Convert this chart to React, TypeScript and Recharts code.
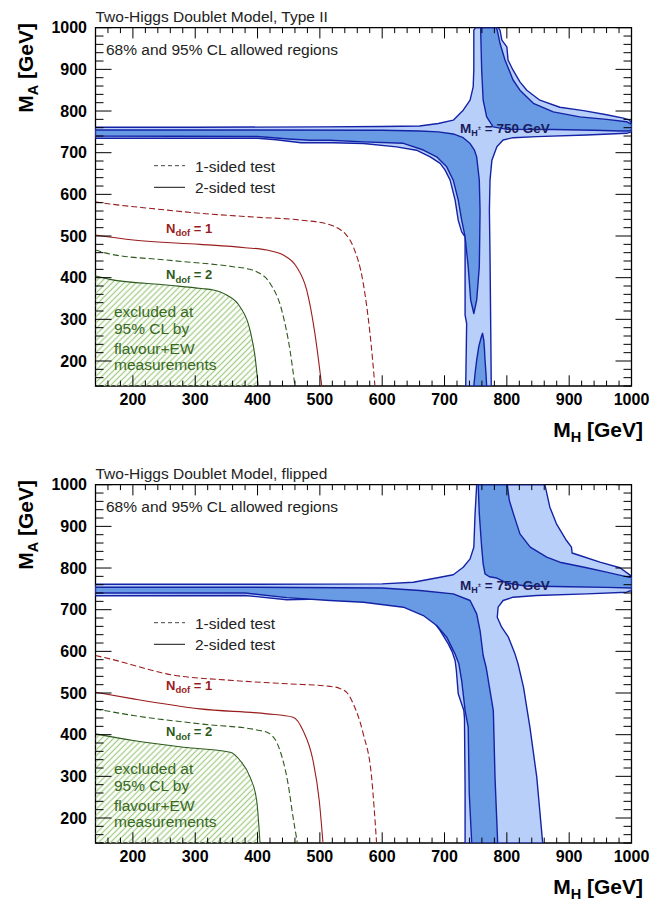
import { ScatterChart, Scatter, XAxis, YAxis, ReferenceArea } from 'recharts';

type Pt = { x: number; y: number };
const toPts = (a: number[][]): Pt[] => a.map(([x, y]) => ({ x, y }));

// axis ticks in GeV (minor every 20, labels on the hundreds)
const AXIS_TICKS = [140, 160, 180, 200, 220, 240, 260, 280, 300, 320, 340, 360, 380, 400, 420, 440, 460, 480,
  500, 520, 540, 560, 580, 600, 620, 640, 660, 680, 700, 720, 740, 760, 780, 800, 820, 840, 860, 880, 900, 920,
  940, 960, 980, 1000];
const TICK_LABELS = [200, 300, 400, 500, 600, 700, 800, 900, 1000];

// ---- Type II: 95% (light) and 68% (dark) CL contours, (M_H, M_A)
const TYPE2_LIGHT = [[140, 761], [300, 761], [500, 762], [600, 763], [660, 764], [690, 770], [714, 778], [730, 802],
  [741, 826], [746, 858], [747, 900], [747, 994], [750, 1000], [786, 1000], [789, 994], [792, 970], [800, 954],
  [802, 922], [810, 898], [821, 870], [832, 850], [853, 826], [885, 809], [923, 801], [960, 791], [987, 783],
  [997, 778], [1000, 770], [1000, 750], [992, 746.5], [928, 742.5], [848, 738.5], [810, 736], [794, 730.5],
  [784, 714.5], [776, 682], [773, 634], [772, 562], [773, 450], [774, 300], [775, 140], [734, 140], [735.5, 290],
  [733, 310], [733, 498], [727.5, 510], [722, 538], [717, 586], [709, 634], [701, 658], [693, 674.5], [677, 690],
  [655, 706], [623, 714], [570, 722], [520, 724], [470, 724], [430, 731], [400, 734.5], [140, 734.5], [140, 761]];
const TYPE2_DARK_UPPER = [[758, 1000], [758, 994], [759.6, 898], [762, 826], [767.6, 786], [778, 762], [800, 756],
  [875, 755.5], [940, 754], [982, 752], [996, 752], [1000, 755], [1000, 768], [992, 774.4], [960, 780], [917, 786],
  [874.5, 798], [842.5, 818.5], [821, 850], [810, 874.5], [797, 922.5], [789, 962.5], [784.6, 994], [783, 1000],
  [758, 1000]];
const TYPE2_DARK_LOWER = [[140, 754.5], [400, 754.5], [600, 754], [660, 752], [690, 750], [714, 745], [730, 736],
  [741, 722], [748, 706], [751.6, 690], [755.8, 634], [757, 562], [756.5, 500], [755.8, 426], [751.6, 346],
  [747, 314], [742, 346], [738, 426], [733, 498], [727.5, 538], [722, 586], [714, 634], [703.5, 666], [687.4, 690],
  [666, 706.4], [634, 722.5], [570, 726], [516, 730], [484, 730], [450, 733], [400, 739], [140, 740], [140, 754.5]];
const TYPE2_DARK_BLOB = [[747, 140], [749, 170], [751.6, 202], [755, 235], [758.5, 255], [761, 266.5], [763, 250],
  [764, 230], [765, 202], [766.5, 170], [767.6, 140], [747, 140]];

// flavour + EW exclusion lines, Type II
const TYPE2_RED_DASHED = [[140, 582], [163, 577], [230, 566], [308, 554.5], [400, 545], [468, 538.4], [516, 527],
  [530, 518], [541, 505], [553.6, 474], [569.6, 386.5], [580.4, 266.5], [588.4, 140]];
const TYPE2_RED_SOLID = [[140, 502.4], [200.6, 490.4], [307.7, 480], [380, 472], [414.7, 466.4], [441.3, 454.4],
  [462.5, 426.4], [478.8, 370.6], [492, 266.5], [503, 140]];
const TYPE2_GREEN_DASHED = [[140, 466.4], [163, 456.8], [254, 442.4], [361, 426.4], [385, 421], [398.6, 414.4],
  [420, 386.5], [438.7, 322.4], [452, 226.4], [460, 140]];
const TYPE2_GREEN_SOLID = [[140, 404], [163, 396], [254, 382.4], [310, 374], [329, 370.6], [350.5, 358.4],
  [371.8, 330.4], [387.9, 274.4], [396, 210.4], [401, 140]];

// ---- flipped model
const FLIPPED_LIGHT = [[140, 761], [400, 761], [600, 762], [650, 766], [693, 778], [714, 784], [730, 802], [741, 822],
  [747, 850], [749, 930], [751.6, 1000], [861, 1000], [869, 946], [879.6, 906], [895.7, 866], [903.7, 850],
  [904.7, 836], [917, 830], [949.4, 814], [981.5, 800.7], [995, 786], [1000, 780], [1000, 746], [992, 742],
  [928, 738], [848, 734], [810, 730], [794, 722], [786, 706], [784.6, 682], [791.7, 658], [802.5, 634], [813, 594],
  [818, 570], [826.7, 514], [837, 418], [848, 298], [857.5, 140], [733, 140], [733, 274], [732, 440], [731, 458],
  [722, 498], [719, 554], [717, 578], [712, 600], [706, 618], [693, 650], [677, 682], [650, 702], [623, 714],
  [570, 722], [516, 726], [447, 724], [380, 734], [140, 733.5], [140, 761]];
const FLIPPED_DARK_UPPER = [[754, 1000], [755.8, 930], [759.6, 850], [762, 810], [765, 786], [772, 779], [784, 776],
  [800, 764], [830, 757], [900, 755], [960, 753.5], [1000, 752], [1000, 778], [995, 778], [960, 790], [928, 800.7],
  [885, 814], [864, 826], [837.5, 850], [821, 882], [810.6, 930], [804, 962], [800.7, 1000], [754, 1000]];
const FLIPPED_DARK_LOWER = [[140, 754], [400, 754], [600, 752], [660.6, 746], [714, 738], [741, 722], [751.6, 690],
  [757, 650], [762, 590], [767, 560], [778.3, 458], [781, 298], [785.3, 140], [743.6, 140], [739.7, 258],
  [738, 418], [733, 458], [727.5, 530], [723, 570], [716.8, 594], [703.5, 634], [687.4, 662], [666, 686],
  [634, 706], [570, 718], [516, 722], [447, 729], [380, 740], [140, 740], [140, 754]];

const FLIPPED_RED_DASHED = [[140, 590], [163, 582], [227, 556], [254, 546], [361, 530], [450, 522], [516, 516],
  [532, 511], [544, 500], [553.6, 474], [569.6, 402], [583, 298], [591, 140]];
const FLIPPED_RED_SOLID = [[140, 502], [200.6, 486], [307.7, 462], [415, 450], [457, 442], [473, 410], [489, 338],
  [499, 242], [505, 140]];
const FLIPPED_GREEN_DASHED = [[140, 462], [200.6, 446], [307.7, 426], [404, 410], [420, 402], [436, 362], [449, 282],
  [457, 202], [464, 140]];
const FLIPPED_GREEN_SOLID = [[140, 402], [200.6, 386], [281, 370], [356, 358], [372, 338], [388, 298],
  [398.6, 242], [404, 140]];

const PLOT_W = 536;
const PLOT_H = 358.3;
const FONT = '"Liberation Sans", Arial, Helvetica, sans-serif';
const LIGHT = '#b8cffa';
const DARK = '#689be3';
const EDGE = '#1423a6';
const RED = '#9a1c1c';
const GREEN = '#2c5a1c';
const HATCH = '#a4cd88';
const TEXT_GREEN = '#3a6a1f';

const noDot = () => <g />;

const XTick = ({ x, y, payload }: any) => {
  const v = payload.value;
  const major = TICK_LABELS.includes(v);
  const len = major ? 10.7 : 5.4;
  return (
    <g>
      <line x1={x} x2={x} y1={y} y2={y - len} stroke="#000" />
      <line x1={x} x2={x} y1={y - PLOT_H} y2={y - PLOT_H + len} stroke="#000" />
      {major && (
        <text x={x} y={y + 19} textAnchor="middle" fontFamily={FONT} fontWeight="bold" fontSize={16} fill="#000">
          {v}
        </text>
      )}
    </g>
  );
};

const YTick = ({ x, y, payload }: any) => {
  const v = payload.value;
  const major = TICK_LABELS.includes(v);
  const len = major ? 16 : 8;
  return (
    <g>
      <line x1={x} x2={x + len} y1={y} y2={y} stroke="#000" />
      <line x1={x + PLOT_W} x2={x + PLOT_W - len} y1={y} y2={y} stroke="#000" />
      {major && (
        <text x={x - 8.5} y={y + 5.5} textAnchor="end" fontFamily={FONT} fontWeight="bold" fontSize={16} fill="#000">
          {v}
        </text>
      )}
    </g>
  );
};

const region = (key: string, pts: number[][], fill: string) => (
  <Scatter key={key} data={toPts(pts)} shape={noDot} isAnimationActive={false} legendType="none"
    line={{ fill, stroke: EDGE, strokeWidth: 1.4, strokeLinejoin: 'round' }} lineJointType="linear" />
);

const curve = (key: string, pts: number[][], stroke: string, dashed: boolean) => (
  <Scatter key={key} data={toPts(pts)} shape={noDot} isAnimationActive={false} legendType="none"
    line={{ fill: 'none', stroke, strokeWidth: 1.1, strokeDasharray: dashed ? '6 3' : undefined }}
    lineJointType="monotoneX" />
);

const hatch = (id: string, boundary: number[][]) => (
  <Scatter key={id} data={toPts([...boundary, [140, 140]])} shape={noDot} isAnimationActive={false}
    legendType="none"
    line={(p: any) => (
      <g>
        <defs>
          <pattern id={id} patternUnits="userSpaceOnUse" width={4.2} height={4.2} patternTransform="rotate(45)">
            <line x1={2.1} y1={0} x2={2.1} y2={4.2} stroke={HATCH} strokeWidth={1.3} />
          </pattern>
        </defs>
        <path d={'M' + p.points.map((q: Pt) => `${q.x},${q.y}`).join('L') + 'Z'} fill={`url(#${id})`} />
      </g>
    )} />
);

interface PanelProps {
  top: number;
  id: string;
  title: string;
  light: number[][];
  darkUpper: number[][];
  darkLower: number[][];
  blob?: number[][];
  redDashed: number[][];
  redSolid: number[][];
  greenDashed: number[][];
  greenSolid: number[][];
}

function Panel(p: PanelProps) {
  const txt = { fontFamily: FONT, fontSize: 15.5, fill: '#222' };
  return (
    <div style={{ position: 'absolute', left: 0, top: p.top, width: 660, height: 448 }}>
      <ScatterChart width={660} height={443} margin={{ top: 27.7, right: 28.5, bottom: 27, left: 35.5 }}>
        {hatch('hatch-' + p.id, p.greenSolid)}
        {region('light', p.light, LIGHT)}
        {region('dark-up', p.darkUpper, DARK)}
        {region('dark-low', p.darkLower, DARK)}
        {p.blob && region('dark-blob', p.blob, DARK)}
        {curve('red-d', p.redDashed, RED, true)}
        {curve('red-s', p.redSolid, RED, false)}
        {curve('green-d', p.greenDashed, GREEN, true)}
        {curve('green-s', p.greenSolid, GREEN, false)}
        <XAxis type="number" dataKey="x" domain={[140, 1000]} ticks={AXIS_TICKS} interval={0} allowDataOverflow
          height={30} tickSize={0} tickMargin={0} axisLine={false} tickLine={false}
          tick={(t: any) => <XTick {...t} />} />
        <YAxis type="number" dataKey="y" domain={[140, 1000]} ticks={AXIS_TICKS} interval={0} allowDataOverflow
          width={60} tickSize={0} tickMargin={0} axisLine={false} tickLine={false}
          tick={(t: any) => <YTick {...t} />} />
        <ReferenceArea x1={140} x2={1000} y1={140} y2={1000} fill="none" fillOpacity={0} stroke="#000"
          strokeWidth={1.3} />
      </ScatterChart>
      <svg width={660} height={448} style={{ position: 'absolute', left: 0, top: 0, pointerEvents: 'none' }}>
        <text x={95.5} y={21.7} {...txt}>{p.title}</text>
        <text x={106} y={55} {...txt}>68% and 95% CL allowed regions</text>
        <line x1={154} x2={185} y1={165.7} y2={165.7} stroke="#444" strokeDasharray="4 3" />
        <text x={195} y={171.5} {...txt}>1-sided test</text>
        <line x1={154} x2={185} y1={187.3} y2={187.3} stroke="#111" />
        <text x={195} y={193.3} {...txt}>2-sided test</text>
        <text x={166} y={232.7} fontFamily={FONT} fontSize={13} fontWeight="bold" fill={RED}>
          N<tspan fontSize={9.5} dy={3.5}>dof</tspan><tspan fontSize={13} dy={-3.5}>{'\u00a0= 1'}</tspan>
        </text>
        <text x={166} y={279} fontFamily={FONT} fontSize={13} fontWeight="bold" fill={GREEN}>
          N<tspan fontSize={9.5} dy={3.5}>dof</tspan><tspan fontSize={13} dy={-3.5}>{'\u00a0= 2'}</tspan>
        </text>
        <text fontFamily={FONT} fontSize={15.5} fill={TEXT_GREEN}>
          <tspan x={114} y={317}>excluded at</tspan>
          <tspan x={114} y={334}>95% CL by</tspan>
          <tspan x={114} y={354}>flavour+EW</tspan>
          <tspan x={114} y={370}>measurements</tspan>
        </text>
        <text x={460} y={132.7} fontFamily={FONT} fontSize={13.5} fontWeight="bold" fill="#1b1b5c">
          M<tspan fontSize={9} dy={3}>H</tspan><tspan fontSize={6} dy={-6}>±</tspan>
          <tspan fontSize={13.5} dy={3}>{'\u00a0= 750 GeV'}</tspan>
        </text>
        <text transform="translate(33.3,23) rotate(-90)" textAnchor="end" fontFamily={FONT} fontSize={21}
          fontWeight="bold" fill="#000">
          M<tspan fontSize={14.5} dy={5}>A</tspan><tspan fontSize={21} dy={-5}>{'\u00a0[GeV]'}</tspan>
        </text>
        <text x={643} y={436.5} textAnchor="end" fontFamily={FONT} fontSize={21} fontWeight="bold" fill="#000">
          M<tspan fontSize={14.5} dy={5}>H</tspan><tspan fontSize={21} dy={-5}>{'\u00a0[GeV]'}</tspan>
        </text>
      </svg>
    </div>
  );
}

export default function App() {
  return (
    <div style={{ position: 'absolute', left: 0, top: 0, width: 660, height: 900, background: '#fff',
      overflow: 'hidden' }}>
      <Panel top={0} id="t2" title="Two-Higgs Doublet Model, Type II" light={TYPE2_LIGHT}
        darkUpper={TYPE2_DARK_UPPER} darkLower={TYPE2_DARK_LOWER} blob={TYPE2_DARK_BLOB}
        redDashed={TYPE2_RED_DASHED} redSolid={TYPE2_RED_SOLID} greenDashed={TYPE2_GREEN_DASHED}
        greenSolid={TYPE2_GREEN_SOLID} />
      <Panel top={456.6} id="fl" title="Two-Higgs Doublet Model, flipped" light={FLIPPED_LIGHT}
        darkUpper={FLIPPED_DARK_UPPER} darkLower={FLIPPED_DARK_LOWER}
        redDashed={FLIPPED_RED_DASHED} redSolid={FLIPPED_RED_SOLID} greenDashed={FLIPPED_GREEN_DASHED}
        greenSolid={FLIPPED_GREEN_SOLID} />
    </div>
  );
}
